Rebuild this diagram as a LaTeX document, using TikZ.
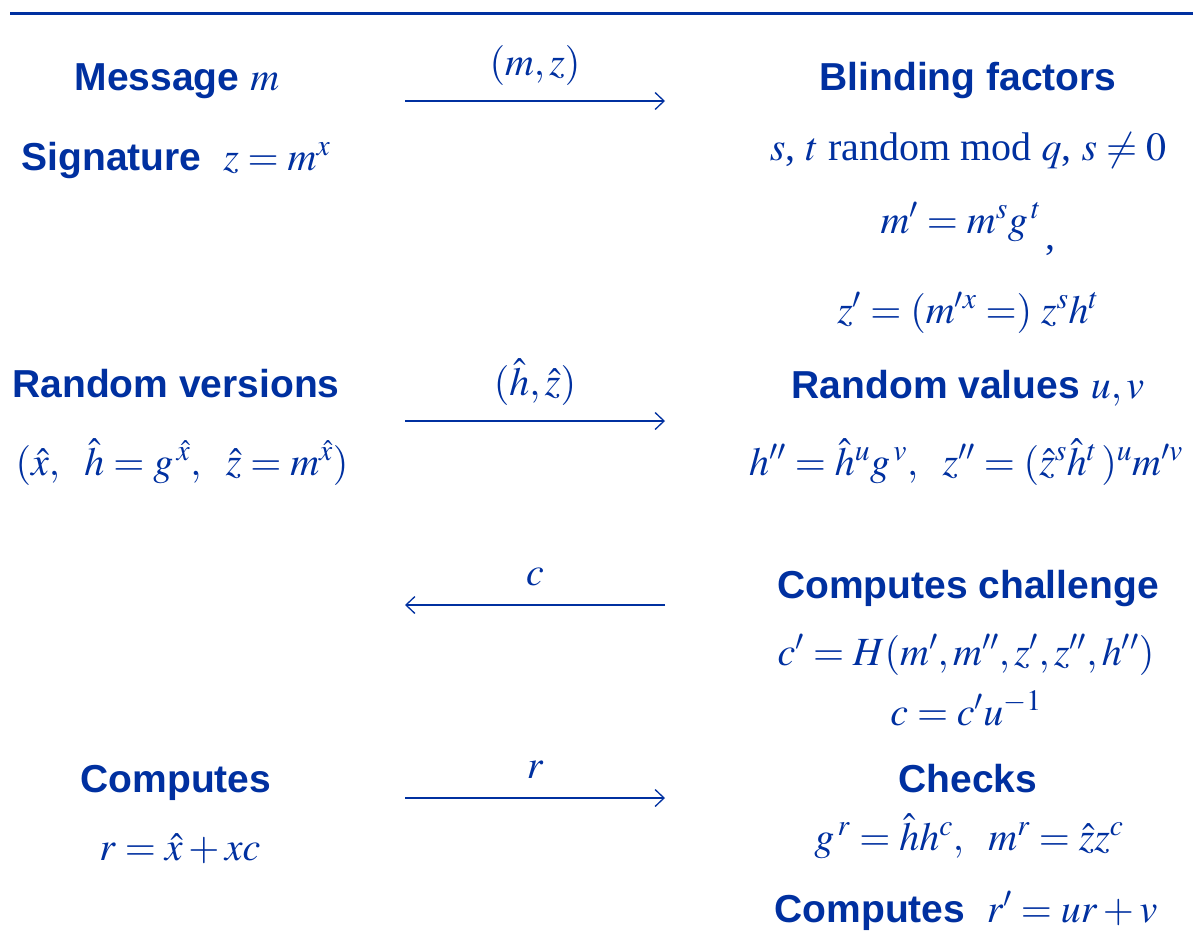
\documentclass[tikz,border=0pt]{standalone}
\usepackage{mathptmx}
\usepackage{fontspec}
\setmainfont{Liberation Serif}
\newfontfamily\hdfont{Liberation Sans}
\usetikzlibrary{arrows.meta}
\definecolor{pblue}{RGB}{0,48,160}
\begin{document}
\begin{tikzpicture}[x=1pt,y=-1pt,
  every node/.style={text=pblue, inner sep=0pt, anchor=base},
  hd/.style={font=\hdfont\bfseries\fontsize{39}{47}\selectfont},
  eq/.style={font=\fontsize{40}{48}\selectfont},
  msg/.style={draw=pblue, line width=1.3pt, -{Straight Barb[length=9pt,width=17pt]}}]
\useasboundingbox (0,0) rectangle (1193,932);
% top rule
\coordinate (ruleL) at (10,13);
\coordinate (ruleR) at (1193,13);
\draw[pblue, line width=3pt] (ruleL) -- (ruleR);
% left column
\node[hd] (msgm) at (177,90) {Message {\fontsize{40}{48}\selectfont$m$}};
\node[hd] (sig) at (176,170) {Signature\ \ {\fontsize{40}{48}\selectfont$z=m^{x}$}};
\node[hd] (rv) at (176,397) {Random versions};
\node[eq] (rvq) at (182,475) {$(\hat{x},\ \ \hat{h}=g^{\,\hat{x}},\ \ \hat{z}=m^{\hat{x}})$};
\node[hd] (compL) at (176,792) {Computes};
\node[eq] (r) at (180,860) {$r=\hat{x}+xc$};
% right column
\node[hd] (blind) at (968,90) {Blinding factors};
\node[eq] (st) at (968,160) {$s$, $t$ random mod $q$, $s\neq 0$};
\node[eq] (mp) at (968,233) {$m' = m^{s}g^{\,t}\,\raisebox{-0.4em}{,}$};
\node[eq] (zp) at (968,323) {$z' = (m'^{x}=)\; z^{s}h^{t}$};
\node[hd] (rval) at (968,398) {Random values {\fontsize{40}{48}\selectfont$u,v$}};
\node[eq] (hz) at (966,475) {$h''=\hat{h}^{u}g^{\,v},\ \ z''=(\hat{z}^{s}\hat{h}^{t}\,)^{u}m'^{v}$};
\node[hd] (cc) at (968,598) {Computes challenge};
\node[eq] (cp) at (966,665) {$c'=H(m',m'',z',z'',h'')$};
\node[eq] (c) at (966,725) {$c=c'u^{-1}$};
\node[hd] (chk) at (968,792) {Checks};
\node[eq] (chkeq) at (969,850) {$g^{\,r}=\hat{h}h^{c},\ \ m^{r}=\hat{z}z^{c}$};
\node[hd] (compR) at (966,922) {Computes\ \ {\fontsize{40}{48}\selectfont$r'=ur+v$}};
% messages
\coordinate (a1L) at (405,101); \coordinate (a1R) at (665,101);
\coordinate (a2L) at (405,421); \coordinate (a2R) at (665,421);
\coordinate (a3L) at (405,605); \coordinate (a3R) at (665,605);
\coordinate (a4L) at (405,798); \coordinate (a4R) at (665,798);
\draw[msg] (a1L) -- (a1R);
\draw[msg] (a2L) -- (a2R);
\draw[msg] (a3R) -- (a3L);
\draw[msg] (a4L) -- (a4R);
\node[eq] (l1) at (535,75) {$(m,z)$};
\node[eq] (l2) at (535,395) {$(\hat{h},\hat{z})$};
\node[eq] (l3) at (535,585) {$c$};
\node[eq] (l4) at (535,778) {$r$};
\end{tikzpicture}
\end{document}
